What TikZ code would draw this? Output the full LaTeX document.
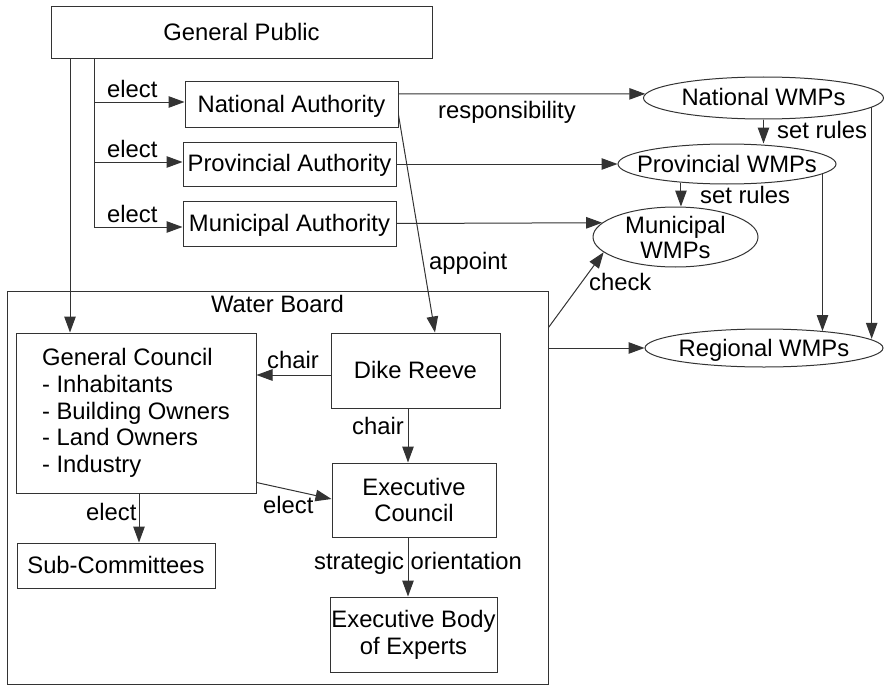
\documentclass[tikz,border=0pt]{standalone}
\usepackage{fontspec}
\setmainfont{Liberation Sans}
\usetikzlibrary{arrows.meta,shapes.geometric}

% diagram type size and a helper that centres ellipse text without enlarging the shape
\newcommand\dfont{\fontsize{23.8pt}{26.7pt}\selectfont}
\newcommand\ellipsetext[1]{\makebox[0pt]{\raisebox{-8pt}[0pt][0pt]{#1}}}

\begin{document}
\begin{tikzpicture}[x=1pt,y=-1pt,
  box/.style={draw=black!80, line width=1pt, rectangle, inner sep=0pt, font=\dfont},
  oneline/.style={text height=15pt, text depth=0pt},
  oval/.style={draw=black!80, line width=1pt, ellipse, inner sep=0pt, font=\dfont},
  lbl/.style={font=\dfont, inner sep=0pt, anchor=base west},
  arr/.style={draw=black!80, line width=1pt, -{Triangle[length=16pt,width=11.5pt]}}
]
\useasboundingbox (0,0) rectangle (884,685);

% public and authorities
\node[box, oneline, minimum width=381pt, minimum height=52pt] (gp) at (241.5,33) {General Public};
\node[box, oneline, minimum width=213pt, minimum height=45pt] (nat) at (291.5,104.5) {National Authority};
\node[box, oneline, minimum width=213pt, minimum height=44pt] (prov) at (289.5,164) {Provincial Authority};
\node[box, oneline, minimum width=213pt, minimum height=45pt] (mun) at (289.5,223.5) {Municipal Authority};

% water board and its bodies
\node[box, minimum width=541pt, minimum height=393pt] (wb) at (277.5,487.5) {};
\node[font=\dfont, inner sep=0pt, anchor=base] (wbt) at (277.5,312) {Water Board};
\node[box, align=left, minimum width=240pt, minimum height=160pt] (gc) at (136,413)
  {General Council\\- Inhabitants\\- Building Owners\\- Land Owners\\- Industry};
\node[box, oneline, minimum width=169pt, minimum height=75pt] (dr) at (415.5,370.5) {Dike Reeve};
\node[box, align=center, minimum width=164pt, minimum height=74pt] (ec) at (414,500) {Executive\\Council};
\node[box, align=center, minimum width=167pt, minimum height=75pt] (eb) at (413.5,634.5) {Executive Body\\of Experts};
\node[box, oneline, minimum width=198pt, minimum height=45pt] (sc) at (116,565.5) {Sub-Committees};

% water management plans
\node[oval, minimum width=240pt, minimum height=42pt] (natw) at (763.5,98) {\ellipsetext{National WMPs}};
\node[oval, minimum width=218pt, minimum height=40pt] (provw) at (727,164) {\ellipsetext{Provincial WMPs}};
\node[oval, minimum width=165pt, minimum height=60pt] (munw) at (675.5,237)
  {\makebox[0pt]{\raisebox{4pt}[0pt][0pt]{Municipal}}\makebox[0pt]{\raisebox{-21pt}[0pt][0pt]{WMPs}}};
\node[oval, minimum width=238pt, minimum height=38pt] (regw) at (764,348) {\ellipsetext{Regional WMPs}};

% elections by the public
\coordinate (xa) at (70,0);
\coordinate (xb) at (94,0);
\draw[arr] (gp.south -| xa) -- (gc.north -| xa);
\draw[arr] (gp.south -| xb) |- ([yshift=-3.5pt]mun.west);
\draw[arr] ([yshift=2pt]prov.west -| xb) -- ([yshift=2pt]prov.west);
\draw[arr] ([yshift=2.5pt]nat.west -| xb) -- ([yshift=2.5pt]nat.west);

% authorities to plans
\draw[arr] ([yshift=10.5pt]nat.east) -- (natw.178);
\draw[arr] (prov.east) -- (provw.west);
\draw[arr] (mun.east) -- (munw.169.6);
\draw[arr] (natw.south) -- (natw.south |- provw.north);
\draw[arr] (provw.202) -- (provw.202 |- munw.north);
\draw[arr] (provw.-6) -- (provw.-6 |- regw.16);
\draw[arr] (natw.-5.6) -- (natw.-5.6 |- regw.5);
\draw[arr] ([yshift=-10.5pt]nat.east) -- ([xshift=19.5pt]dr.north);
\draw[arr] ([yshift=-37pt]wb.north east) -- (munw.192.8);
\draw[arr] (wb.east |- regw.west) -- (regw.west);

% inside the water board
\draw[arr] ([yshift=-4.5pt]dr.west) -- ([yshift=-4.5pt]dr.west -| gc.east);
\draw[arr] ([xshift=-7.5pt]dr.south) -- ([xshift=-7.5pt]dr.south |- ec.north);
\draw[arr] ([yshift=11pt]gc.south east) -- ([yshift=1pt]ec.west);
\draw[arr] ([xshift=3pt]gc.south) -- ([xshift=3pt]gc.south |- sc.north);
\draw[arr] ([xshift=-6pt]ec.south) -- ([xshift=-6pt]ec.south |- eb.north);

% connector labels
\node[lbl] (e1) at (107,97) {elect};
\node[lbl] (e2) at (107,157) {elect};
\node[lbl] (e3) at (107,222) {elect};
\node[lbl] (resp) at (438,118) {responsibility};
\node[lbl] (sr1) at (777,139) {set rules};
\node[lbl] (sr2) at (700,203) {set rules};
\node[lbl] (app) at (429,269) {appoint};
\node[lbl] (chk) at (589,290) {check};
\node[lbl] (ch1) at (267,368) {chair};
\node[lbl] (ch2) at (352,434) {chair};
\node[lbl] (e4) at (263,513) {elect};
\node[lbl] (e5) at (86,520) {elect};
\node[lbl] (so) at (314,569) {strategic orientation};
\end{tikzpicture}
\end{document}
